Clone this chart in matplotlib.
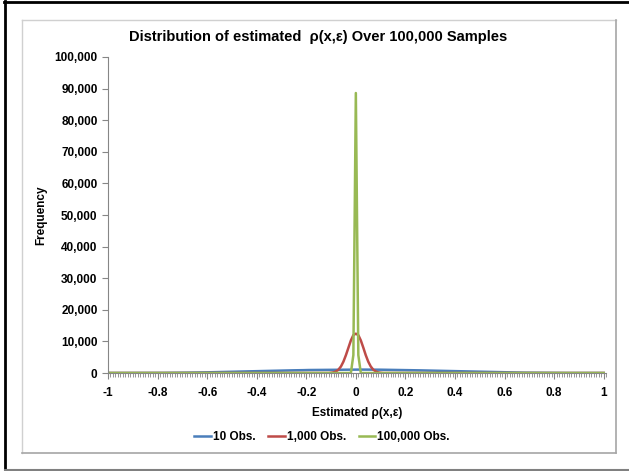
import numpy as np
import matplotlib.pyplot as plt
from matplotlib.lines import Line2D
from matplotlib.ticker import FuncFormatter, MultipleLocator

plt.rcParams['font.family'] = ['Liberation Sans', 'DejaVu Sans']

# bins -1.00 .. 1.00, step 0.01
bins = np.round(np.arange(-100, 101) / 100, 2)

# 10 Obs. - frequency per bin
obs10 = [0, 0, 0, 0, 0, 1, 1, 1, 2, 3,
         3, 4, 5, 6, 8, 9, 12, 14, 17, 21,
         26, 30, 35, 40, 46, 52, 59, 66, 74, 85,
         102, 108, 118, 128, 141, 150, 163, 174, 188, 205,
         229, 238, 255, 270, 289, 301, 318, 336, 352, 373,
         401, 414, 433, 452, 469, 488, 505, 528, 545, 570,
         592, 606, 628, 641, 664, 680, 701, 714, 733, 750,
         785, 797, 808, 826, 842, 860, 869, 884, 896, 912,
         948, 955, 963, 978, 986, 995, 1003, 1018, 1029, 1040,
         1057, 1060, 1068, 1071, 1079, 1082, 1087, 1090, 1091, 1094,
         1093,
         1095, 1089, 1088, 1084, 1080, 1077, 1070, 1066, 1061, 1055,
         1044, 1031, 1020, 1011, 997, 988, 976, 965, 956, 946,
         915, 898, 887, 870, 857, 845, 827, 812, 799, 788,
         752, 736, 718, 699, 683, 662, 645, 627, 610, 595,
         568, 549, 526, 507, 486, 470, 449, 432, 417, 398,
         376, 355, 337, 320, 302, 287, 270, 252, 240, 231,
         206, 190, 176, 162, 149, 138, 126, 117, 109, 103,
         86, 75, 67, 58, 51, 46, 39, 35, 31, 27,
         22, 18, 15, 12, 10, 8, 6, 5, 4, 3,
         2, 2, 1, 1, 1, 0, 0, 0, 0, 0]

# 1,000 Obs. - non-zero bins -0.10 .. 0.10
obs1000_bins = np.round(np.arange(-10, 11) / 100, 2)
obs1000_vals = [85, 218, 512, 1093, 2085, 3627, 5668, 8046, 10325, 12008, 12450,
                11992, 10340, 8061, 5655, 3612, 2092, 1085, 520, 214, 88]

# 100,000 Obs. - non-zero bins -0.01 .. 0.01
obs100k_bins = [-0.01, 0.0, 0.01]
obs100k_vals = [5700, 88600, 5700]

obs1000 = np.zeros(len(bins))
obs100k = np.zeros(len(bins))
for b, v in zip(obs1000_bins, obs1000_vals):
    obs1000[np.isclose(bins, b)] = v
for b, v in zip(obs100k_bins, obs100k_vals):
    obs100k[np.isclose(bins, b)] = v

fig = plt.figure(figsize=(6.29, 4.71), dpi=100)
ax = fig.add_axes([0.1717, 0.208, 0.792, 0.671])

ax.plot(bins, obs10, color='#4A7EBB', lw=1.8, label='10 Obs.')
ax.plot(bins, obs1000, color='#BE4B48', lw=1.8, label='1,000 Obs.')
ax.plot(bins, obs100k, color='#98B954', lw=1.8, label='100,000 Obs.')

ax.set_xlim(-1.0, 1.01)
ax.set_ylim(0, 100000)
ax.xaxis.set_major_locator(MultipleLocator(0.2))
ax.xaxis.set_minor_locator(MultipleLocator(0.01))
ax.yaxis.set_major_locator(MultipleLocator(10000))
ax.yaxis.set_major_formatter(FuncFormatter(lambda v, p: f'{int(v):,}'))
ax.xaxis.set_major_formatter(FuncFormatter(lambda v, p: f'{v:g}' if abs(v) > 1e-9 else '0'))

for s in ['top', 'right']:
    ax.spines[s].set_visible(False)
for s in ['left', 'bottom']:
    ax.spines[s].set_color('#868686')
ax.tick_params(axis='both', which='both', colors='#868686', labelcolor='black')
ax.tick_params(axis='y', length=4, labelsize=8.5)
ax.tick_params(axis='x', which='major', length=4, labelsize=8.5, pad=6)
ax.tick_params(axis='x', which='minor', length=3)
for lbl in ax.get_xticklabels() + ax.get_yticklabels():
    lbl.set_fontweight('bold')

fig.text(318 / 629, 1 - 37 / 471, 'Distribution of estimated  ρ(x,ε) Over 100,000 Samples',
         fontsize=10.5, fontweight='bold', ha='center', va='center')
ax.set_xlabel('Estimated ρ(x,ε)', fontsize=8.5, fontweight='bold', labelpad=6)
ax.set_ylabel('Frequency', fontsize=8.5, fontweight='bold', labelpad=5)

fig.legend(loc='center', bbox_to_anchor=(322 / 629, 1 - 437 / 471), ncol=3, frameon=False,
           handlelength=1.4, handletextpad=0.15, columnspacing=1.1,
           prop={'size': 8.5, 'weight': 'bold'})

# chart area border (light gray, darker right/bottom edge)
W, H = 629, 471
def fline(x0, y0, x1, y1, color, lw):
    fig.add_artist(Line2D([x0 / W, x1 / W], [1 - y0 / H, 1 - y1 / H],
                          transform=fig.transFigure, color=color, lw=lw))

fline(22, 20, 616, 20, '#D0D0D0', 1)
fline(22, 20, 22, 453, '#D0D0D0', 1)
fline(616, 20, 616, 453, '#A6A6A6', 1.2)
fline(22, 453, 616, 453, '#A6A6A6', 1.2)

# outer frame: black top/left, gray bottom, open on the right
fline(4, 2, 629, 2, 'black', 2)
fline(5, 1, 5, 470, 'black', 2)
fline(5, 469.5, 629, 469.5, '#808080', 1.5)

fig.savefig('out.png', dpi=100)
